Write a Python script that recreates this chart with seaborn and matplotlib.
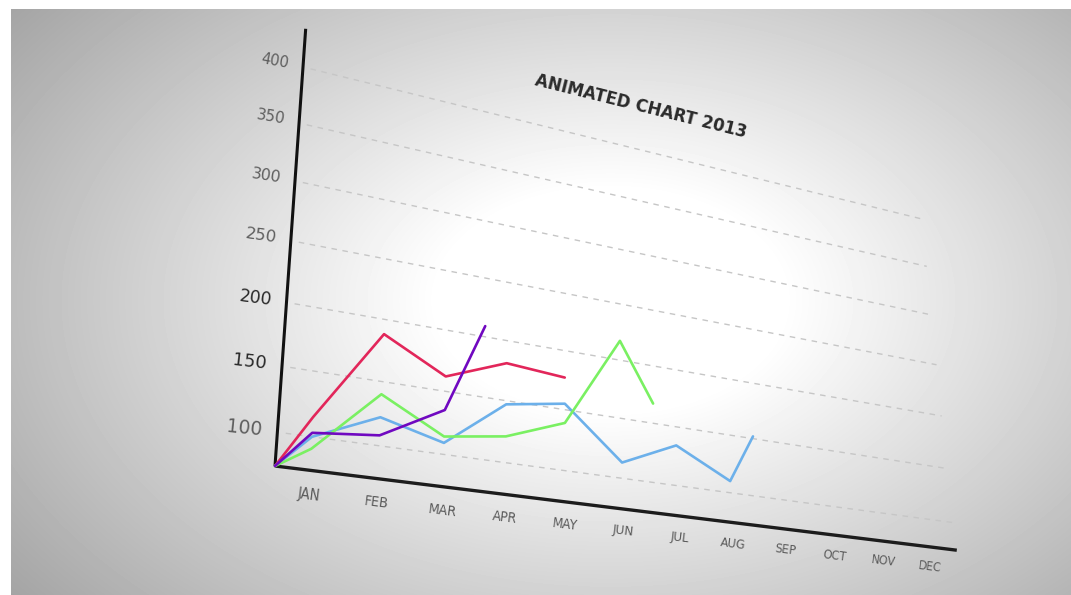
import numpy as np
import pandas as pd
import matplotlib
matplotlib.use("Agg")
import matplotlib.pyplot as plt
import matplotlib.transforms as mtransforms
from matplotlib.axes import Axes
from matplotlib.projections import register_projection
import seaborn as sns

# ---------------- data ----------------
months = ["JAN", "FEB", "MAR", "APR", "MAY", "JUN",
          "JUL", "AUG", "SEP", "OCT", "NOV", "DEC"]
y_ticks = [100, 150, 200, 250, 300, 350, 400]
title_text = "ANIMATED CHART 2013"

red_x = [-0.5, 0, 1, 2, 3, 4]
red_y = [75, 115, 188, 162, 181, 177]
blue_x = [-0.5, 0, 1, 2, 3, 4, 5, 6, 7, 7.49]
blue_y = [75, 100, 122, 109, 147, 155, 113, 134, 110, 152]
green_x = [-0.5, 0, 1, 2, 3, 4, 5, 5.59]
green_y = [75, 91, 140, 114, 121, 139, 217, 167]
purple_x = [-0.5, 0, 1, 2, 2.63]
purple_y = [75, 103, 108, 135, 209]
series_names = ["red", "blue", "green", "purple"]

# ---------------- layout / style ----------------
W, H = 1071, 595
XLIM = (-0.5, 11.6)
YLIM = (75, 400)
Y_AXIS_TOP = 435
X_AXIS_END = 11.64
# pixel positions of the unit-square corners of the plotting plane
SRC = [(0, 0), (1, 0), (1, 1), (0, 1)]
DST = [(275, 466), (955, 550), (922, 219), (303, 67)]
palette = {"red": "#e2265a", "blue": "#6cb0ea", "green": "#7af062", "purple": "#7008c0"}


def homography(src, dst):
    A, b = [], []
    for (u, v), (X, Y) in zip(src, dst):
        A.append([u, v, 1, 0, 0, 0, -u * X, -v * X]); b.append(X)
        A.append([0, 0, 0, u, v, 1, -u * Y, -v * Y]); b.append(Y)
    h = np.linalg.solve(np.array(A, float), np.array(b, float))
    return np.append(h, 1.0).reshape(3, 3)


F = np.array([[1.0 / W, 0, 0], [0, -1.0 / H, 1.0], [0, 0, 1.0]])
HM = F @ homography(SRC, DST)


class PerspTransform(mtransforms.Transform):
    input_dims = 2
    output_dims = 2
    is_separable = False
    has_inverse = True

    def __init__(self, M):
        super().__init__()
        self.M = np.asarray(M, float)

    def transform_non_affine(self, values):
        vals = np.asarray(values, float)
        one_d = vals.ndim == 1
        vals = vals.reshape(-1, 2)
        p = np.column_stack([vals, np.ones(len(vals))]) @ self.M.T
        out = p[:, :2] / p[:, 2:3]
        return out[0] if one_d else out

    def inverted(self):
        return PerspTransform(np.linalg.inv(self.M))


class PerspAxes(Axes):
    name = "persp"

    def _set_lim_and_transforms(self):
        super()._set_lim_and_transforms()
        self.transData = self.transScale + (self.transLimits + PerspTransform(HM) + self.transAxes)


register_projection(PerspAxes)

sns.set_style("white")
plt.rcParams["font.family"] = ["DejaVu Sans"]

fig = plt.figure(figsize=(W / 100, H / 100), dpi=100)
fig.patch.set_facecolor("white")

# vignette background
bg = fig.add_axes([0, 0, 1, 1], zorder=0)
bg.set_axis_off()
yy, xx = np.mgrid[0:H, 0:W]
r = np.sqrt(((xx - 610) / 640.0) ** 2 + ((yy - 300) / 410.0) ** 2)
img = (255 - 100 * np.clip(r - 0.27, 0, None)) / 255.0
img = np.clip(img, 0, 1)
img[:9, :] = 1.0
img[:, :11] = 1.0
bg.imshow(img, cmap="gray", vmin=0, vmax=1, extent=(0, W, H, 0), aspect="auto", interpolation="bilinear")
bg.set_xlim(0, W); bg.set_ylim(H, 0)

ax = fig.add_axes([0, 0, 1, 1], projection="persp", zorder=1)
ax.set_axis_off()
ax.set_xlim(*XLIM); ax.set_ylim(*YLIM)

# gridlines
for t in y_ticks:
    ax.plot([XLIM[0] + 0.12, XLIM[1]], [t, t], ls=(0, (4, 4)), color="#c6c6c6", lw=1.0, zorder=1)

# axes lines
ax.plot([XLIM[0], XLIM[0]], [YLIM[0], Y_AXIS_TOP], color="#111111", lw=2.2, zorder=2,
        solid_capstyle="butt")
ax.plot([XLIM[0], X_AXIS_END], [YLIM[0], YLIM[0]], color="#1c1c1c", lw=2.4, zorder=2,
        solid_capstyle="butt")

# data lines via seaborn
frames = []
for name, xs, ys in [("red", red_x, red_y), ("blue", blue_x, blue_y),
                     ("green", green_x, green_y), ("purple", purple_x, purple_y)]:
    frames.append(pd.DataFrame({"month": xs, "value": ys, "series": name}))
df = pd.concat(frames, ignore_index=True)
sns.lineplot(data=df, x="month", y="value", hue="series", hue_order=series_names,
             palette=palette, sort=False, estimator=None, legend=False, ax=ax,
             lw=1.9, zorder=3)
ax.set_xlim(*XLIM); ax.set_ylim(*YLIM)
ax.set_axis_off()


def disp(x, y):
    return ax.transData.transform(np.array([[x, y]], float))[0]


def angle(p, q):
    d = disp(*q) - disp(*p)
    return np.degrees(np.arctan2(d[1], d[0]))


# y tick labels
ref_len = np.linalg.norm(disp(XLIM[0], 100) - disp(XLIM[0], 150))
for t in y_ticks:
    ang = angle((XLIM[0], t), (XLIM[0] + 1, t)) * 0.75
    loc = np.linalg.norm(disp(XLIM[0], t) - disp(XLIM[0], t + 50)) / ref_len
    col = "#2a2a2a" if 150 <= t <= 200 else "#5e5e5e"
    ax.text(XLIM[0] - 0.22, t, str(t), ha="right", va="center", rotation=ang,
            rotation_mode="anchor", fontsize=13.5 * loc ** 1.3, color=col, zorder=4)

# month labels
ref_m = np.linalg.norm(disp(0, YLIM[0]) - disp(1, YLIM[0]))
for i, m in enumerate(months):
    ang = angle((i - 0.5, YLIM[0]), (i + 0.5, YLIM[0]))
    loc = np.linalg.norm(disp(i - 0.5, YLIM[0]) - disp(i + 0.5, YLIM[0])) / ref_m
    ax.text(i, 57, m, ha="center", va="center", rotation=ang, rotation_mode="anchor",
            fontsize=10.5 * loc ** 0.45, color="#5a5a5a", fontstretch="condensed",
            family=["Liberation Sans Narrow", "DejaVu Sans"], zorder=4)

# title
fig.text(641 / W, 1 - 106 / H, title_text, ha="center", va="center", rotation=-14,
         rotation_mode="anchor", fontsize=12, fontweight="bold", color="#2b2b2b")

fig.savefig("out.png", dpi=100)
